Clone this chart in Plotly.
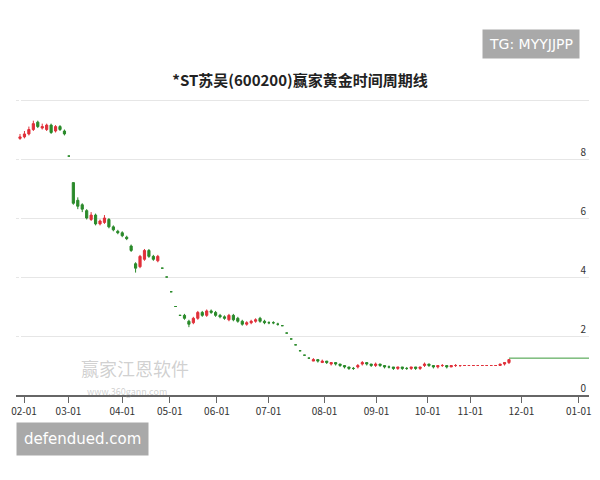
import plotly.graph_objects as go

# 收盘价 / 开盘价（按K线序号）
closes = [8.75, 8.85, 9.0, 9.2, 9.1, 9.1, 9.15, 8.9, 9.1, 9.0, 8.85,
          8.1, 6.5, 6.4, 6.3, 6.0, 6.1, 5.8, 5.9, 6.0, 5.7, 5.6, 5.5, 5.4, 5.3,
          4.9, 4.3, 4.7, 4.9, 4.7, 4.6, 4.7, 4.3, 4.0, 3.5, 3.0, 2.7, 2.6, 2.4,
          2.6, 2.8, 2.7, 2.85, 2.8, 2.7, 2.65, 2.6, 2.7, 2.55, 2.5, 2.4, 2.45,
          2.5, 2.55, 2.5, 2.45, 2.45, 2.45, 2.4, 2.35, 2.1, 1.9, 1.7, 1.5, 1.35,
          1.25, 1.2, 1.15, 1.15, 1.1, 1.1, 1.05, 1.0, 0.95, 0.9, 0.9, 1.0, 1.1,
          1.05, 1.0, 1.05, 1.0, 0.95, 0.95, 0.9, 0.95, 0.9, 0.9, 0.95, 0.9, 0.95,
          1.05, 1.0, 0.95, 1.0, 1.0, 0.95, 1.0, 1.0, 1.0, 1.0, 1.0, 1.0, 1.0,
          1.0, 1.0, 1.0, 1.0, 1.05, 1.1, 1.2]
opens = [8.7, 8.75, 8.85, 9.0, 9.25, 9.05, 9.0, 9.15, 8.95, 9.1, 8.95,
         8.1, 7.2, 6.6, 6.45, 6.25, 5.95, 6.1, 5.8, 5.85, 5.95, 5.7, 5.55, 5.5, 5.35,
         5.05, 4.45, 4.35, 4.6, 4.9, 4.7, 4.55, 4.3, 4.0, 3.5, 3.0, 2.7, 2.7, 2.5,
         2.45, 2.6, 2.8, 2.7, 2.85, 2.8, 2.7, 2.65, 2.55, 2.7, 2.6, 2.5, 2.4,
         2.45, 2.5, 2.6, 2.5, 2.45, 2.45, 2.4, 2.35, 2.1, 1.9, 1.7, 1.5, 1.35,
         1.25, 1.15, 1.2, 1.1, 1.15, 1.05, 1.1, 1.05, 1.0, 0.95, 0.9, 0.95, 1.05,
         1.1, 1.05, 1.0, 1.05, 1.0, 0.95, 0.95, 0.9, 0.95, 0.9, 0.9, 0.95, 0.9,
         1.0, 1.05, 1.0, 0.95, 1.0, 1.0, 0.95, 1.0, 1.0, 1.0, 1.0, 1.0, 1.0,
         1.0, 1.0, 1.0, 1.0, 1.0, 1.05, 1.1]
highs = [8.85, 8.95, 9.1, 9.3, 9.3, 9.2, 9.2, 9.2, 9.15, 9.15, 9.0,
         8.1, 7.2, 6.7, 6.5, 6.3, 6.2, 6.15, 5.95, 6.1, 6.0, 5.75, 5.6, 5.55, 5.4,
         5.1, 4.5, 4.75, 4.95, 4.95, 4.75, 4.75, 4.3, 4.0, 3.5, 3.0, 2.7, 2.75, 2.55,
         2.65, 2.85, 2.85, 2.9, 2.9, 2.85, 2.75, 2.7, 2.75, 2.75, 2.65, 2.55, 2.5,
         2.55, 2.6, 2.65, 2.55, 2.5, 2.5, 2.45, 2.35, 2.1, 1.9, 1.7, 1.5, 1.35,
         1.25, 1.25, 1.2, 1.2, 1.15, 1.1, 1.1, 1.05, 1.0, 0.95, 0.95, 1.05, 1.15,
         1.1, 1.05, 1.1, 1.05, 1.0, 1.0, 0.95, 0.95, 0.95, 0.95, 0.95, 0.95, 0.95,
         1.1, 1.05, 1.0, 1.0, 1.05, 1.0, 1.0, 1.05, 1.0, 1.0, 1.0, 1.0, 1.0,
         1.0, 1.0, 1.0, 1.0, 1.05, 1.1, 1.2]
lows = [8.65, 8.7, 8.8, 8.95, 9.05, 9.0, 8.95, 8.85, 8.9, 8.95, 8.8,
        8.1, 6.45, 6.3, 6.2, 5.95, 5.9, 5.75, 5.75, 5.8, 5.65, 5.55, 5.45, 5.35, 5.25,
        4.85, 4.15, 4.3, 4.55, 4.65, 4.55, 4.5, 4.3, 4.0, 3.5, 3.0, 2.7, 2.55, 2.3,
        2.4, 2.55, 2.65, 2.65, 2.75, 2.65, 2.6, 2.55, 2.5, 2.5, 2.45, 2.35, 2.35,
        2.4, 2.45, 2.45, 2.4, 2.4, 2.4, 2.35, 2.35, 2.1, 1.9, 1.7, 1.5, 1.35,
        1.25, 1.15, 1.1, 1.1, 1.05, 1.0, 1.0, 0.95, 0.9, 0.85, 0.85, 0.9, 1.0,
        1.0, 0.95, 0.95, 0.95, 0.9, 0.9, 0.85, 0.85, 0.85, 0.85, 0.85, 0.85, 0.85,
        0.95, 0.95, 0.9, 0.9, 0.95, 0.9, 0.95, 0.95, 0.95, 1.0, 1.0, 1.0, 1.0,
        1.0, 1.0, 1.0, 1.0, 1.0, 1.0, 1.05]
flat_x = [110, 128]
flat_y = [1.25, 1.25]

tick_pos = [0.9, 10.9, 23, 33.7, 44.3, 55.9, 68.5, 80.2, 91.7, 101.3, 112.8, 125.7]
tick_text = ["02-01", "03-01", "04-01", "05-01", "06-01", "07-01",
             "08-01", "09-01", "10-01", "11-01", "12-01", "01-01"]

xs = list(range(len(closes)))

fig = go.Figure()
fig.add_trace(go.Candlestick(
    x=xs, open=opens, high=highs, low=lows, close=closes,
    increasing=dict(line=dict(color="#e0303a", width=1), fillcolor="#e0303a"),
    decreasing=dict(line=dict(color="#2a8a2a", width=1), fillcolor="#2a8a2a"),
    whiskerwidth=0, showlegend=False, hoverinfo="skip",
))
fig.add_trace(go.Scatter(x=flat_x, y=flat_y, mode="lines",
                         line=dict(color="#3a9a3a", width=1), showlegend=False))

fig.update_layout(
    height=480,
    margin=dict(l=8, r=0, t=82, b=93),
    paper_bgcolor="white", plot_bgcolor="white",
    font=dict(family="Noto Sans CJK SC", color="#333"),
    title=dict(text="<b>*ST苏吴(600200)赢家黄金时间周期线</b>", x=0.5, y=0.86,
               xanchor="center", font=dict(size=15, color="#222")),
    xaxis=dict(range=[-0.9, 128], tickvals=tick_pos, ticktext=tick_text,
               ticks="outside", ticklen=6, tickcolor="#666", showgrid=False,
               showline=True, linecolor="#666", linewidth=2, autorange=False,
               ticklabeloverflow="allow",
               tickfont=dict(size=10, color="#333"), rangeslider=dict(visible=False)),
    yaxis=dict(range=[0, 10.34], side="right", dtick=2, ticklabelposition="inside top",
               showgrid=True, gridcolor="#e6e6e6", zeroline=False,
               tickfont=dict(size=10, color="#333")),
)

fig.add_annotation(text="TG: MYYJJPP", xref="paper", yref="paper", x=0.985, y=1.2,
                   showarrow=False, bgcolor="#a9a9a9", borderpad=6,
                   font=dict(color="white", size=14, family="DejaVu Sans"))
fig.add_annotation(text="defendued.com", xref="paper", yref="paper", x=0.0, y=-0.2,
                   xanchor="left", showarrow=False, bgcolor="#a9a9a9", borderpad=7,
                   font=dict(color="white", size=15, family="DejaVu Sans"))
fig.add_annotation(text="赢家江恩软件", xref="paper", yref="paper", x=0.11, y=0.04,
                   xanchor="left", showarrow=False,
                   font=dict(color="rgba(150,150,150,0.45)", size=18))
fig.add_annotation(text="www.360gann.com", xref="paper", yref="paper", x=0.12, y=-0.015,
                   xanchor="left", showarrow=False,
                   font=dict(color="rgba(150,150,150,0.45)", size=9))

fig.write_html("out.html")
